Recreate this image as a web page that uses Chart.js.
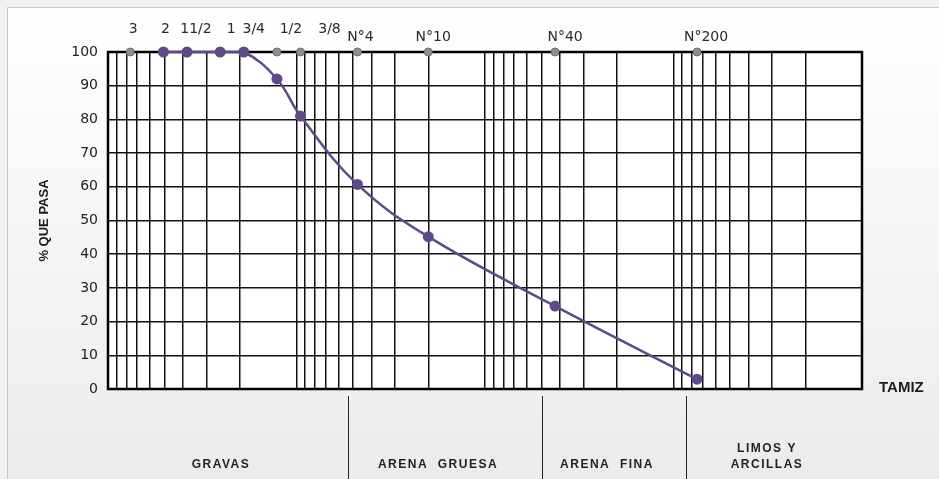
<!DOCTYPE html>
<html>
<head>
<meta charset="utf-8">
<script src="https://cdn.jsdelivr.net/npm/chart.js@4.4.1/dist/chart.umd.min.js"></script>
<style>
    html, body { margin: 0; padding: 0; background: #f0f0f0; }
    #wrap { width: 939px; height: 479px; }
</style>
</head>
<body>
<div id="wrap"><canvas id="curve" width="939" height="479"></canvas></div>
<script>
// --- Data (sieve sizes in mm, % passing) ---
const sieveLabels = ['3', '2', '11/2', '1', '3/4', '1/2', '3/8', 'N°4', 'N°10', 'N°40', 'N°200'];
const sieveSizes = [76.2, 50.8, 38.1, 25.4, 19.05, 12.7, 9.525, 4.75, 2.0, 0.425, 0.075];
const passing = [null, 100, 100, 100, 100, 92, 81, 60.7, 45.2, 24.6, 2.9];
const yTicks = [0, 10, 20, 30, 40, 50, 60, 70, 80, 90, 100];
const zoneNames = [['GRAVAS'], ['ARENA  GRUESA'], ['ARENA  FINA'], ['LIMOS Y', 'ARCILLAS']];
const zoneLimits = [5.33, 0.498, 0.0859];

// label nudges (px) so the sieve names sit like the original
const labelDx = [3, 2, 9, 11, 10, 14, 29, 3, 5, 10, 9];

const PURPLE = '#5d4a86';
const LINE = '#111111';

const curvePoints = sieveSizes
    .map((s, i) => passing[i] === null ? null : { x: s, y: passing[i] })
    .filter(p => p);
const sievePoints = sieveSizes.map(s => ({ x: s, y: 100 }));

const decor = {
    id: 'decor',
    beforeDraw(chart) {
        const { ctx, chartArea: a, width, height } = chart;
        ctx.save();
        const g = ctx.createLinearGradient(0, 7, 0, height);
        g.addColorStop(0, '#ffffff');
        g.addColorStop(1, '#ebebeb');
        ctx.fillStyle = g;
        ctx.fillRect(7, 7, width - 7, height - 7);
        ctx.strokeStyle = '#c6c6c6';
        ctx.lineWidth = 1;
        ctx.beginPath();
        ctx.moveTo(7.5, height); ctx.lineTo(7.5, 7.5); ctx.lineTo(width, 7.5);
        ctx.stroke();
        ctx.fillStyle = '#ffffff';
        ctx.fillRect(a.left, a.top, a.width, a.height);
        ctx.restore();
    },
    beforeDatasetsDraw(chart) {
        const { ctx, chartArea: a } = chart;
        ctx.save();
        ctx.strokeStyle = '#000';
        ctx.lineWidth = 2.5;
        ctx.strokeRect(a.left, a.top, a.width, a.height);
        ctx.restore();
    },
    afterDraw(chart) {
        const { ctx, chartArea: a, height } = chart;
        const xs = chart.scales.x;
        ctx.save();
        // sieve names over the top edge
        ctx.fillStyle = '#2a2a2a';
        ctx.font = "14px 'DejaVu Sans', sans-serif";
        ctx.textAlign = 'center';
        ctx.textBaseline = 'middle';
        sieveLabels.forEach((lab, i) => {
            const x = xs.getPixelForValue(sieveSizes[i]) + labelDx[i];
            const y = lab.startsWith('N°') ? a.top - 15 : a.top - 23;
            ctx.fillText(lab, x, y);
        });

        // TAMIZ
        ctx.fillStyle = '#1c1c1c';
        ctx.font = "bold 15px 'Liberation Sans', Arial, sans-serif";
        ctx.textAlign = 'left';
        ctx.fillText('TAMIZ', a.right + 17, a.bottom - 1);

        // soil zones under the plot
        const edges = [a.left, ...zoneLimits.map(v => xs.getPixelForValue(v)), a.right];
        ctx.strokeStyle = '#222';
        ctx.lineWidth = 1;
        zoneLimits.forEach(v => {
            const x = Math.round(xs.getPixelForValue(v)) + 0.5;
            ctx.beginPath(); ctx.moveTo(x, a.bottom + 7); ctx.lineTo(x, height); ctx.stroke();
        });
        ctx.font = "bold 12px 'Liberation Sans', Arial, sans-serif";
        ctx.letterSpacing = '1.5px';
        ctx.fillStyle = '#222';
        ctx.textAlign = 'center';
        zoneNames.forEach((lines, i) => {
            const cx = (edges[i] + edges[i + 1]) / 2 - 7;
            lines.forEach((t, j) => {
                ctx.fillText(t, cx, height - 14 - (lines.length - 1 - j) * 16);
            });
        });
        ctx.restore();
    }
};

new Chart(document.getElementById('curve'), {
    type: 'scatter',
    data: {
        datasets: [
            {
                data: curvePoints,
                showLine: true,
                tension: 0.4,
                borderColor: PURPLE,
                borderWidth: 2.5,
                backgroundColor: PURPLE,
                pointRadius: 5.5,
                pointBorderWidth: 0,
                clip: false
            },
            {
                data: sievePoints,
                showLine: false,
                pointRadius: 4,
                backgroundColor: '#8f8f8f',
                borderColor: '#6e6e6e',
                pointBorderWidth: 1,
                clip: false
            }
        ]
    },
    options: {
        responsive: false,
        animation: false,
        events: [],
        layout: { padding: { top: 52, right: 77, bottom: 0, left: 0 } },
        plugins: { legend: { display: false }, tooltip: { enabled: false } },
        scales: {
            x: {
                type: 'logarithmic',
                min: 0.01,
                max: 100,
                reverse: true,
                border: { display: false },
                grid: { color: LINE, lineWidth: 1.5, drawTicks: false },
                ticks: { display: false },
                afterBuildTicks(s) {
                    const t = [];
                    for (let e = -2; e <= 1; e++) {
                        for (let m = 1; m <= 9; m++) t.push({ value: m * Math.pow(10, e) });
                    }
                    t.push({ value: 100 });
                    s.ticks = t;
                },
                afterFit(s) { s.height = 90; }
            },
            y: {
                min: 0,
                max: 100,
                border: { display: false },
                grid: { color: LINE, lineWidth: 1.5, drawTicks: false },
                afterBuildTicks(s) { s.ticks = yTicks.map(v => ({ value: v })); },
                ticks: {
                    color: '#222',
                    padding: 10,
                    font: { family: "'DejaVu Sans', sans-serif", size: 14 }
                },
                title: {
                    display: true,
                    text: '% QUE PASA',
                    color: '#1c1c1c',
                    padding: { top: 37, bottom: 0 },
                    font: { family: "'Liberation Sans', Arial, sans-serif", size: 13, weight: 'bold' }
                },
                afterFit(s) { s.width = 108; }
            }
        }
    },
    plugins: [decor]
});
</script>
</body>
</html>
